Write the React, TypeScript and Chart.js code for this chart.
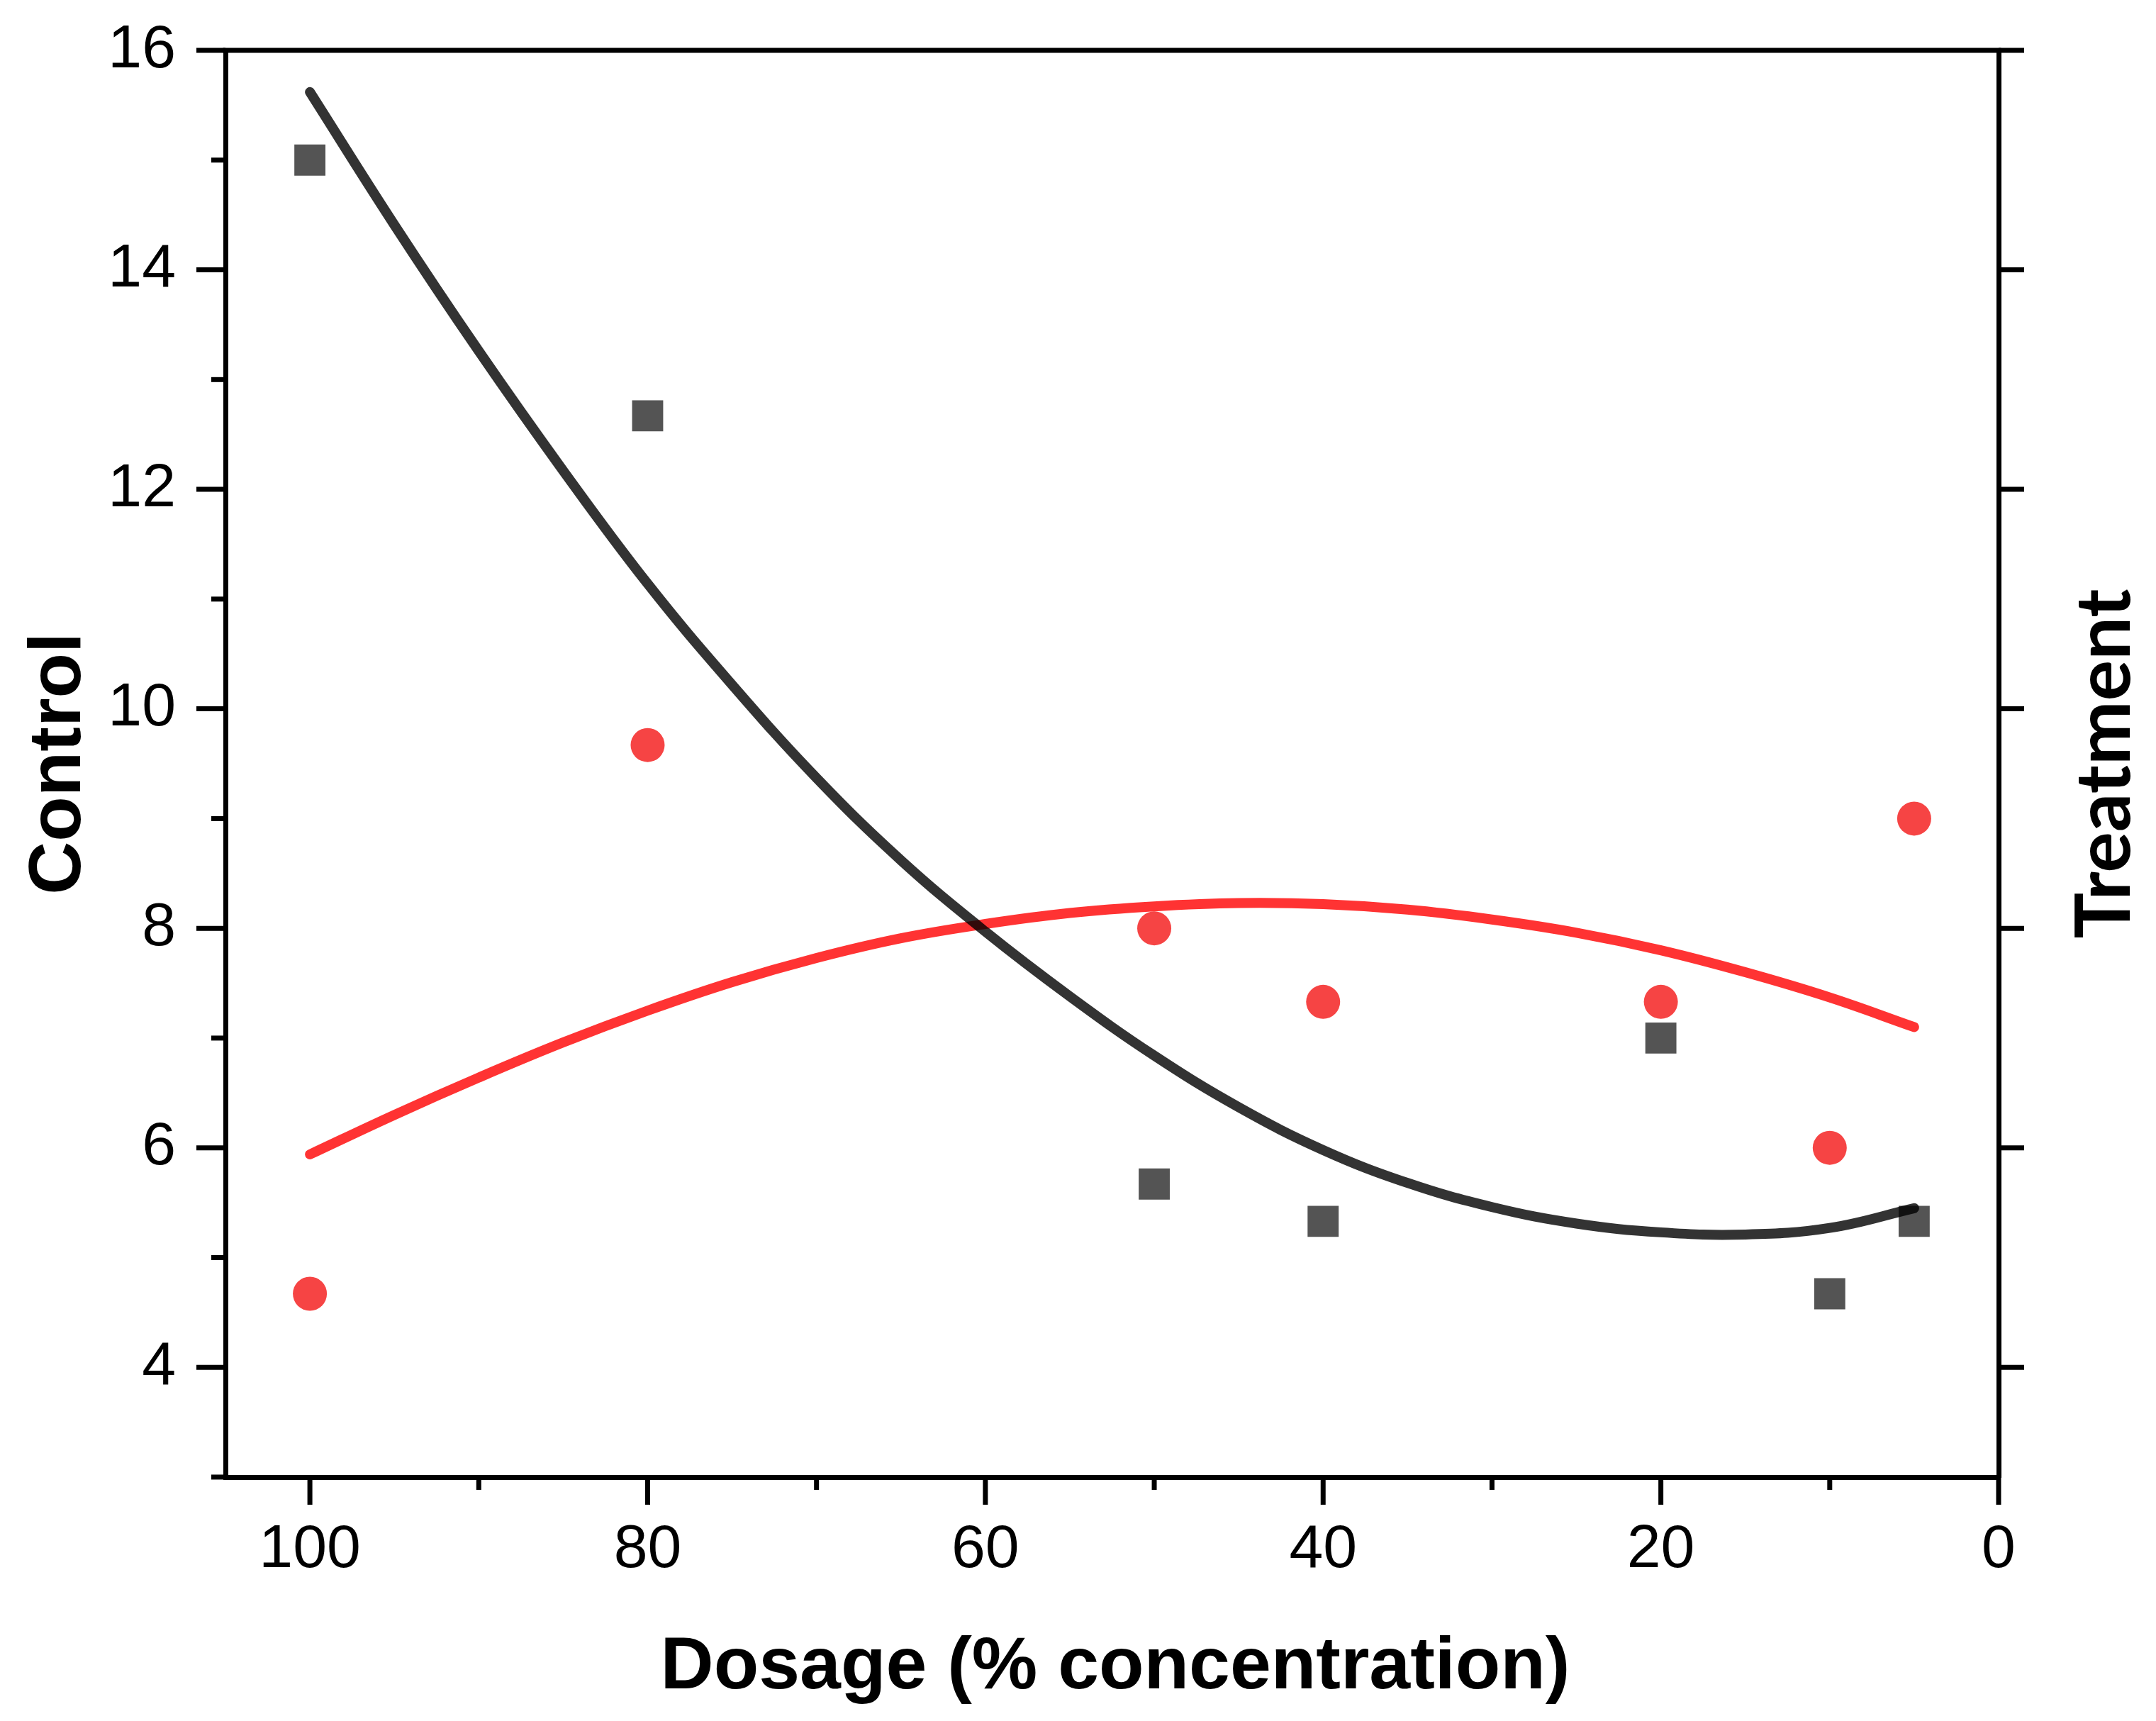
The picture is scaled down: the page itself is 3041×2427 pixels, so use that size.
import React, { useEffect, useRef } from 'react';
import { Chart, registerables } from 'chart.js';

Chart.register(...registerables);

// ---- data ----
const dosage = [100, 80, 50, 40, 20, 10, 5];
const controlValues = [15, 12.67, 5.67, 5.33, 7, 4.67, 5.33];
const treatmentValues = [4.67, 9.67, 8, 7.33, 7.33, 6, 9];

// fitted curves
const fitDosage = [100, 95, 90, 85, 80, 75, 70, 65, 60, 55, 50, 45, 40, 35, 30, 25, 20, 15, 10, 5];
const controlFit = [15.62, 14.41, 13.26, 12.17, 11.14, 10.22, 9.37, 8.62, 7.97, 7.38, 6.84, 6.37, 5.98, 5.68, 5.46, 5.31, 5.23, 5.21, 5.27, 5.45];
const treatmentFit = [5.94, 6.3, 6.64, 6.96, 7.25, 7.51, 7.73, 7.91, 8.04, 8.14, 8.2, 8.23, 8.22, 8.17, 8.08, 7.96, 7.8, 7.6, 7.37, 7.1];

const xTickValues = [100, 80, 60, 40, 20, 0];
const xMinorValues = [90, 70, 50, 30, 10];
const yTickValues = [4, 6, 8, 10, 12, 14, 16];
const yMinorValues = [3, 5, 7, 9, 11, 13, 15];

const xTitle = 'Dosage (% concentration)';
const yTitle = 'Control';
const y2Title = 'Treatment';

const W = 3041;
const H = 2427;

const framePlugin = {
  id: 'frame',
  afterDraw(chart: any) {
    const { ctx, chartArea, scales } = chart;
    const { left, right, top, bottom } = chartArea;
    const xs = scales.x;
    const ys = scales.y;
    ctx.save();
    ctx.strokeStyle = '#000';
    ctx.lineWidth = 7;
    ctx.lineCap = 'butt';
    const line = (x1: number, y1: number, x2: number, y2: number) => {
      ctx.beginPath();
      ctx.moveTo(x1, y1);
      ctx.lineTo(x2, y2);
      ctx.stroke();
    };
    // top frame line
    line(left - 3.5, top, right + 3.5, top);
    // left axis ticks
    yTickValues.forEach((v) => {
      const p = ys.getPixelForValue(v);
      line(left, p, left - 41, p);
    });
    yMinorValues.forEach((v) => {
      const p = ys.getPixelForValue(v);
      line(left, p, left - 20, p);
    });
    // right axis ticks
    yTickValues.forEach((v) => {
      const p = ys.getPixelForValue(v);
      line(right, p, right + 36, p);
    });
    // bottom axis ticks
    xTickValues.forEach((v) => {
      const p = xs.getPixelForValue(v);
      line(p, bottom, p, bottom + 39);
    });
    xMinorValues.forEach((v) => {
      const p = xs.getPixelForValue(v);
      line(p, bottom, p, bottom + 18);
    });

    // axis titles
    ctx.fillStyle = '#000';
    ctx.textAlign = 'center';
    ctx.textBaseline = 'alphabetic';
    ctx.font = 'bold 104px "Liberation Sans", Arial, sans-serif';
    ctx.fillText(xTitle, 1573, 2381);

    ctx.save();
    ctx.translate(113, 1077);
    ctx.rotate(-Math.PI / 2);
    ctx.fillText(yTitle, 0, 0);
    ctx.restore();

    ctx.save();
    ctx.font = 'bold 108px Lato, "Open Sans", sans-serif';
    ctx.translate(3004, 1077);
    ctx.rotate(-Math.PI / 2);
    ctx.fillText(y2Title, 0, 0);
    ctx.restore();

    ctx.restore();
  },
};

const xTickFont = { family: '"Liberation Sans", Arial, sans-serif', size: 86 };
const yTickFont = { family: '"Liberation Sans", Arial, sans-serif', size: 86, lineHeight: 0.9 };

export default function App() {
  const ref = useRef<HTMLCanvasElement | null>(null);

  useEffect(() => {
    const canvas = ref.current;
    if (!canvas) return;
    const chart = new Chart(canvas, {
      type: 'scatter',
      data: {
        datasets: [
          {
            label: 'Control fit',
            data: fitDosage.map((x, i) => ({ x, y: controlFit[i] })),
            showLine: true,
            borderColor: 'rgba(0,0,0,0.8)',
            borderWidth: 14,
            borderCapStyle: 'round',
            borderJoinStyle: 'round',
            tension: 0.4,
            pointRadius: 0,
            order: 0,
            yAxisID: 'y',
          },
          {
            label: 'Treatment fit',
            data: fitDosage.map((x, i) => ({ x, y: treatmentFit[i] })),
            showLine: true,
            borderColor: 'rgba(255,0,0,0.8)',
            borderWidth: 14,
            borderCapStyle: 'round',
            borderJoinStyle: 'round',
            tension: 0.4,
            pointRadius: 0,
            order: 1,
            yAxisID: 'y2',
          },
          {
            label: 'Control',
            data: dosage.map((x, i) => ({ x, y: controlValues[i] })),
            pointStyle: 'rect',
            pointRadius: 31,
            backgroundColor: '#545454',
            borderWidth: 0,
            order: 2,
            yAxisID: 'y',
          },
          {
            label: 'Treatment',
            data: dosage.map((x, i) => ({ x, y: treatmentValues[i] })),
            pointStyle: 'circle',
            pointRadius: 24,
            backgroundColor: '#f64444',
            borderWidth: 0,
            order: 3,
            yAxisID: 'y2',
          },
        ],
      } as any,
      options: {
        responsive: false,
        animation: false,
        devicePixelRatio: 1,
        events: [],
        layout: { padding: { top: 71, left: 0, right: 0, bottom: 0 } },
        plugins: { legend: { display: false }, tooltip: { enabled: false } },
        scales: {
          x: {
            type: 'linear',
            position: 'bottom',
            reverse: true,
            min: 0,
            max: 105,
            afterBuildTicks: (s: any) => {
              s.ticks = xTickValues.map((v) => ({ value: v }));
            },
            afterFit: (s: any) => {
              s.height = 344;
            },
            ticks: { font: xTickFont, color: '#000', padding: 13, maxRotation: 0, autoSkip: false },
            grid: { display: true, drawOnChartArea: false, drawTicks: true, tickLength: 39, tickColor: 'rgba(0,0,0,0)' },
            border: { display: true, color: '#000', width: 7 },
          },
          y: {
            type: 'linear',
            position: 'left',
            min: 3,
            max: 16,
            afterBuildTicks: (s: any) => {
              s.ticks = yTickValues.map((v) => ({ value: v }));
            },
            afterFit: (s: any) => {
              s.width = 318;
            },
            ticks: { font: yTickFont, color: '#000', padding: 29, autoSkip: false },
            grid: { display: true, drawOnChartArea: false, drawTicks: true, tickLength: 41, tickColor: 'rgba(0,0,0,0)' },
            border: { display: true, color: '#000', width: 7 },
          },
          y2: {
            type: 'linear',
            position: 'right',
            min: 3,
            max: 16,
            afterBuildTicks: (s: any) => {
              s.ticks = yTickValues.map((v) => ({ value: v }));
            },
            afterFit: (s: any) => {
              s.width = W - 2819;
            },
            ticks: { display: false },
            grid: { display: true, drawOnChartArea: false, drawTicks: true, tickLength: 36, tickColor: 'rgba(0,0,0,0)' },
            border: { display: true, color: '#000', width: 7 },
          },
        },
      } as any,
      plugins: [framePlugin],
    });
    return () => chart.destroy();
  }, []);

  return (
    <div style={{ position: 'absolute', left: 0, top: 0, width: W, height: H, background: '#fff' }}>
      <canvas ref={ref} width={W} height={H} style={{ display: 'block', width: W, height: H }} />
    </div>
  );
}
